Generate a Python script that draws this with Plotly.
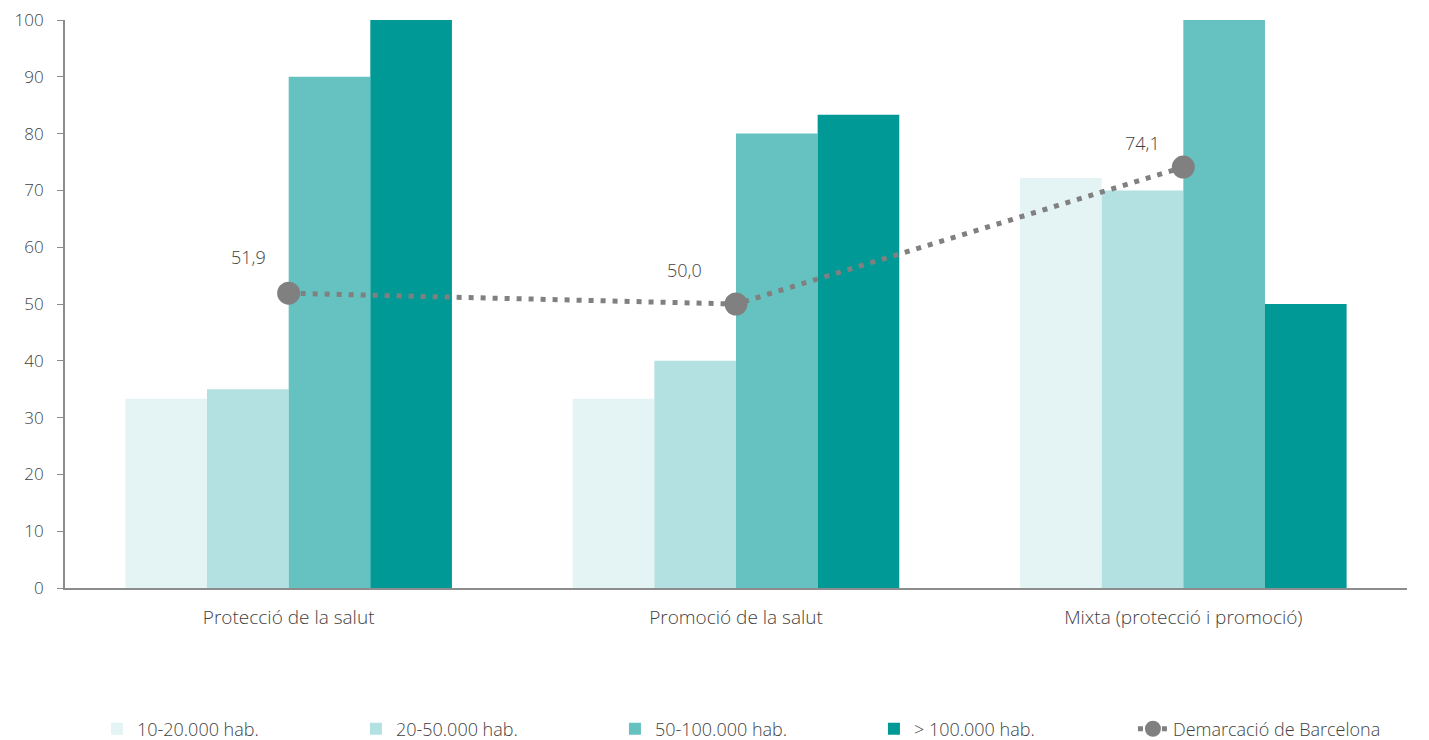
import plotly.graph_objects as go

categories = ["Protecció de la salut", "Promoció de la salut", "Mixta (protecció i promoció)"]
series_names = ["10-20.000 hab.", "20-50.000 hab.", "50-100.000 hab.", "> 100.000 hab."]
s1 = [33.3, 33.3, 72.2]
s2 = [35.0, 40.0, 70.0]
s3 = [90.0, 80.0, 100.0]
s4 = [100.0, 83.3, 50.0]
line_name = "Demarcació de Barcelona"
line_values = [51.9, 50.0, 74.1]
line_labels = ["51,9", "50,0", "74,1"]
y_ticks = [0, 10, 20, 30, 40, 50, 60, 70, 80, 90, 100]

# label placement offsets (pixels) relative to each point
label_shifts = [(-40, 36), (-52, 34), (-41, 24)]

colors = ["#e4f4f4", "#b3e0e0", "#66c2c0", "#009996"]
font_family = "Open Sans, Liberation Sans, sans-serif"
text_color = "#3f3f3f"
fsize = 18

fig = go.Figure()
for name, vals, c in zip(series_names, [s1, s2, s3, s4], colors):
    fig.add_trace(go.Bar(x=categories, y=vals, name=name, marker=dict(color=c, line=dict(width=0))))

fig.add_trace(go.Scatter(
    x=categories, y=line_values, name=line_name, mode="lines+markers",
    line=dict(color="#808080", width=5, dash="5px,7px"),
    marker=dict(color="#808080", size=23),
))

for cat, val, lab, (dx, dy) in zip(categories, line_values, line_labels, label_shifts):
    fig.add_annotation(x=cat, y=val, text=lab, showarrow=False, xshift=dx, yshift=dy,
                       font=dict(size=fsize, color=text_color, family=font_family, weight=300))

fig.update_layout(
    width=1421, height=732,
    margin=dict(l=57, r=22, t=12, b=152),
    paper_bgcolor="white", plot_bgcolor="white",
    barmode="group", bargap=0.27, bargroupgap=0,
    font=dict(family=font_family, size=fsize, color=text_color, weight=300),
    showlegend=True,
    legend=dict(orientation="h", x=0.0238, xanchor="left",
                yref="container", y=0.015, yanchor="middle",
                font=dict(size=fsize, color=text_color, weight=300),
                entrywidth=214, traceorder="normal"),
)
fig.update_xaxes(showline=True, linecolor="#8c8c8c", linewidth=2, ticks="", showgrid=False,
                 automargin=False, ticklabelstandoff=11,
                 tickfont=dict(size=19, color=text_color, weight=300))
fig.update_yaxes(range=[0, 100], tickvals=y_ticks, showline=True, linecolor="#8c8c8c", linewidth=2,
                 ticks="outside", ticklen=6, tickcolor="#8c8c8c", showgrid=False, zeroline=False,
                 automargin=False, ticklabelstandoff=10, ticklabeloverflow="allow",
                 tickfont=dict(size=17, color=text_color, weight=300))

fig.write_html("out.html")
